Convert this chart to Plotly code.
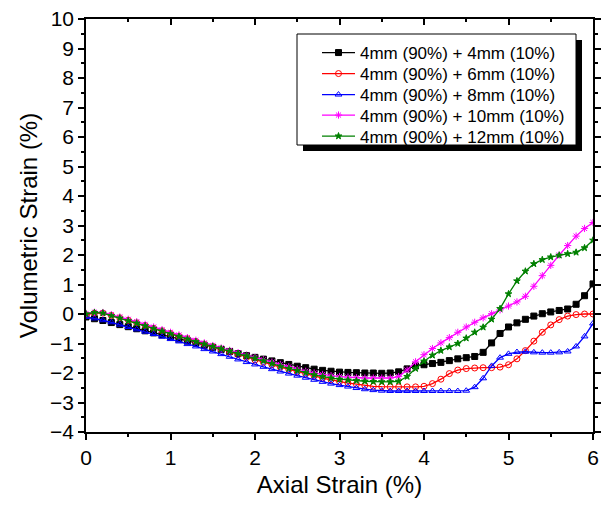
import plotly.graph_objects as go

strain = [0.0, 0.1, 0.2, 0.3, 0.4, 0.5, 0.6, 0.7, 0.8, 0.9,
          1.0, 1.1, 1.2, 1.3, 1.4, 1.5, 1.6, 1.7, 1.8, 1.9,
          2.0, 2.1, 2.2, 2.3, 2.4, 2.5, 2.6, 2.7, 2.8, 2.9,
          3.0, 3.1, 3.2, 3.3, 3.4, 3.5, 3.6, 3.7, 3.8, 3.9,
          4.0, 4.1, 4.2, 4.3, 4.4, 4.5, 4.6, 4.7, 4.8, 4.9,
          5.0, 5.1, 5.2, 5.3, 5.4, 5.5, 5.6, 5.7, 5.8, 5.9, 6.0]

vol_4mm = [-0.10, -0.16, -0.22, -0.29, -0.36, -0.43, -0.50, -0.57, -0.64, -0.71,
           -0.78, -0.85, -0.92, -0.99, -1.06, -1.13, -1.20, -1.27, -1.34, -1.41,
           -1.47, -1.53, -1.59, -1.65, -1.71, -1.77, -1.82, -1.87, -1.91, -1.94,
           -1.97, -1.98, -1.99, -2.00, -2.00, -2.01, -2.00, -1.96, -1.86, -1.76,
           -1.72, -1.68, -1.64, -1.58, -1.52, -1.48, -1.44, -1.30, -0.98, -0.66,
           -0.44, -0.30, -0.18, -0.07, 0.01, 0.07, 0.12, 0.17, 0.33, 0.62, 1.02]

vol_6mm = [-0.03, 0.03, 0.03, -0.05, -0.13, -0.21, -0.30, -0.39, -0.48, -0.57,
           -0.66, -0.75, -0.84, -0.93, -1.02, -1.11, -1.20, -1.29, -1.38, -1.47,
           -1.56, -1.64, -1.72, -1.80, -1.88, -1.96, -2.03, -2.10, -2.17, -2.23,
           -2.29, -2.34, -2.38, -2.42, -2.45, -2.46, -2.47, -2.47, -2.47, -2.47,
           -2.45, -2.36, -2.21, -2.02, -1.90, -1.85, -1.83, -1.82, -1.82, -1.80,
           -1.72, -1.52, -1.24, -0.92, -0.62, -0.37, -0.19, -0.07, -0.02, 0.00, 0.00]

vol_8mm = [-0.10, -0.15, -0.21, -0.28, -0.36, -0.44, -0.52, -0.60, -0.68, -0.77,
           -0.85, -0.93, -1.02, -1.10, -1.19, -1.27, -1.36, -1.45, -1.54, -1.63,
           -1.71, -1.79, -1.87, -1.95, -2.02, -2.09, -2.16, -2.23, -2.30, -2.36,
           -2.41, -2.46, -2.51, -2.55, -2.58, -2.60, -2.61, -2.61, -2.61, -2.61,
           -2.61, -2.61, -2.61, -2.61, -2.61, -2.60, -2.48, -2.18, -1.76, -1.48,
           -1.35, -1.29, -1.28, -1.30, -1.31, -1.31, -1.30, -1.27, -1.10, -0.76, -0.32]

vol_10mm = [0.02, 0.06, 0.05, -0.02, -0.10, -0.18, -0.26, -0.35, -0.44, -0.53,
            -0.62, -0.71, -0.80, -0.89, -0.98, -1.07, -1.15, -1.23, -1.31, -1.39,
            -1.47, -1.55, -1.63, -1.71, -1.79, -1.87, -1.94, -2.00, -2.05, -2.09,
            -2.12, -2.14, -2.16, -2.17, -2.17, -2.17, -2.17, -2.12, -1.90, -1.62,
            -1.38, -1.17, -0.98, -0.80, -0.62, -0.44, -0.28, -0.13, 0.01, 0.14,
            0.27, 0.41, 0.60, 0.94, 1.30, 1.65, 2.00, 2.32, 2.64, 2.90, 3.10]

vol_12mm = [0.00, 0.05, 0.03, -0.06, -0.14, -0.23, -0.31, -0.40, -0.49, -0.58,
            -0.67, -0.76, -0.85, -0.94, -1.02, -1.10, -1.18, -1.26, -1.34, -1.42,
            -1.50, -1.59, -1.68, -1.77, -1.85, -1.92, -1.99, -2.06, -2.12, -2.17,
            -2.21, -2.24, -2.26, -2.28, -2.29, -2.30, -2.30, -2.28, -2.12, -1.85,
            -1.60, -1.40, -1.24, -1.12, -1.00, -0.82, -0.62, -0.45, -0.18, 0.18,
            0.68, 1.12, 1.45, 1.70, 1.84, 1.93, 1.99, 2.04, 2.09, 2.24, 2.50]

series_names = ["4mm (90%) + 4mm (10%)", "4mm (90%) + 6mm (10%)",
                "4mm (90%) + 8mm (10%)", "4mm (90%) + 10mm (10%)",
                "4mm (90%) + 12mm (10%)"]
series_values = [vol_4mm, vol_6mm, vol_8mm, vol_10mm, vol_12mm]
colors = ["#000000", "#ff0000", "#0000ff", "#ff00ff", "#008000"]
symbols = ["square", "circle-open", "triangle-up-open", "asterisk-open", "star"]
sizes = [6, 6, 6, 6, 5]

FONT = "Liberation Sans, Arial, sans-serif"

# plot-area pixel geometry
L, R, T, B = 86, 14, 19, 74
W, H = 607, 506
PW, PH = W - L - R, H - T - B


def px_x(p):
    return (p - L) / PW


def px_y(p):
    return (H - B - p) / PH


legend_ids = ["legend", "legend2", "legend3", "legend4", "legend5"]
legend_rows = [53, 74, 95, 115.5, 136.5]  # pixel row centres of the legend box

fig = go.Figure()
for name, vals, c, s, sz, lg in zip(series_names, series_values, colors, symbols, sizes, legend_ids):
    fig.add_trace(go.Scatter(
        x=strain, y=vals, name=name, mode="lines+markers", legend=lg,
        line=dict(color=c, width=1.3),
        marker=dict(symbol=s, size=sz, color=c, line=dict(color=c, width=1)),
    ))

# dummy trace to activate the top axis
fig.add_trace(go.Scatter(x=[None], y=[None], xaxis="x2", showlegend=False, hoverinfo="skip"))

axis_common = dict(showgrid=False, zeroline=False, showline=True, automargin=False,
                   linecolor="black", linewidth=1.5, tickcolor="black",
                   tickwidth=1.5, ticklen=6)

legend_layout = {}
for lg, row in zip(legend_ids, legend_rows):
    legend_layout[lg] = dict(x=px_x(317), y=px_y(row), xanchor="left", yanchor="middle",
                             bgcolor="rgba(0,0,0,0)", borderwidth=0, itemwidth=33,
                             font=dict(size=17, family=FONT), tracegroupgap=0)

fig.update_layout(
    width=W, height=H,
    margin=dict(l=L, r=R, t=T, b=B, autoexpand=False),
    paper_bgcolor="white", plot_bgcolor="white",
    font=dict(family=FONT, color="black"),
    showlegend=True,
    xaxis=dict(range=[0, 6], dtick=1, tick0=0, ticks="outside",
               title=dict(text="Axial Strain (%)", font=dict(size=24), standoff=8),
               tickfont=dict(size=21),
               minor=dict(dtick=0.5, ticks="outside", ticklen=3, tickwidth=1.5, tickcolor="black"),
               **axis_common),
    xaxis2=dict(range=[0, 6], dtick=1, tick0=0, overlaying="x", side="top",
                ticks="inside", showticklabels=False,
                minor=dict(dtick=0.5, ticks="inside", ticklen=3, tickwidth=1.5, tickcolor="black"),
                **axis_common),
    yaxis=dict(range=[-4, 10], dtick=1, tick0=0, ticks="outside", mirror="ticks",
               title=dict(text="Volumetric Strain (%)", font=dict(size=24), standoff=6),
               tickfont=dict(size=21),
               minor=dict(dtick=0.5, ticks="outside", ticklen=3, tickwidth=1.5, tickcolor="black"),
               **axis_common),
    **legend_layout,
)

# legend drop shadow and frame
fig.add_shape(type="rect", xref="paper", yref="paper",
              x0=px_x(303), x1=px_x(582), y0=px_y(151), y1=px_y(40),
              fillcolor="black", line=dict(width=0), layer="above")
fig.add_shape(type="rect", xref="paper", yref="paper",
              x0=px_x(297), x1=px_x(576), y0=px_y(145), y1=px_y(34),
              fillcolor="white", line=dict(color="black", width=1), layer="above")

fig.write_html("out.html",
               config={"displayModeBar": False},
               post_script="document.body.style.margin='0';document.body.style.padding='0';")
